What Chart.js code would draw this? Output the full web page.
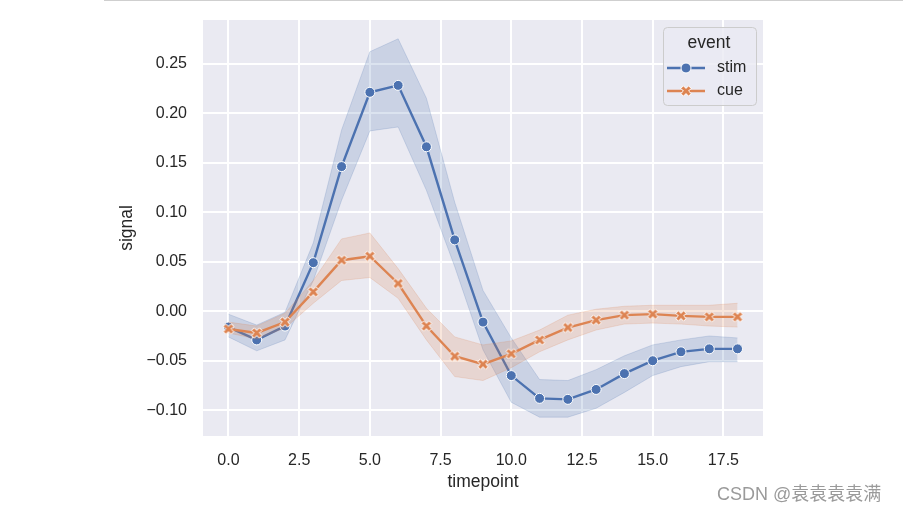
<!DOCTYPE html>
<html>
<head>
<meta charset="utf-8">
<script src="https://cdn.jsdelivr.net/npm/chart.js@4/dist/chart.umd.min.js"></script>
<style>
  body { margin: 0; background: #fff; }
  #wrap { position: relative; width: 903px; height: 513px; }
  #topline { position: absolute; left: 104px; top: 0; width: 799px; height: 1px; background: #cfcfcf; }
  #mark { position: absolute; left: 717px; top: 484px; font: 18px "Liberation Sans", "Noto Sans CJK SC", sans-serif; line-height: 20px; color: #9a9a9a; white-space: nowrap; }
</style>
</head>
<body>
<div id="wrap">
  <canvas id="chart" width="903" height="513"></canvas>
  <div id="topline"></div>
  <div id="mark">CSDN @袁袁袁袁满</div>
</div>
<script>
const timepoints = [0, 1, 2, 3, 4, 5, 6, 7, 8, 9, 10, 11, 12, 13, 14, 15, 16, 17, 18];

const stimMean  = [-0.016, -0.029, -0.015, 0.049, 0.146, 0.221, 0.228, 0.166, 0.072, -0.011, -0.065, -0.088, -0.089, -0.079, -0.063, -0.050, -0.041, -0.038, -0.038];
const stimUpper = [-0.003, -0.014, -0.001, 0.069, 0.183, 0.262, 0.275, 0.215, 0.110, 0.021, -0.027, -0.069, -0.070, -0.059, -0.045, -0.034, -0.029, -0.025, -0.027];
const stimLower = [-0.026, -0.040, -0.029, 0.031, 0.112, 0.182, 0.186, 0.122, 0.045, -0.039, -0.092, -0.107, -0.107, -0.098, -0.082, -0.065, -0.056, -0.051, -0.051];

const cueMean  = [-0.018, -0.022, -0.011, 0.0195, 0.0515, 0.0555, 0.028, -0.015, -0.0455, -0.0535, -0.043, -0.029, -0.0165, -0.009, -0.004, -0.003, -0.0047, -0.0057, -0.0057];
const cueUpper = [-0.011, -0.015, -0.002, 0.031, 0.073, 0.079, 0.043, 0.003, -0.026, -0.034, -0.030, -0.019, -0.004, 0.002, 0.005, 0.006, 0.006, 0.006, 0.008];
const cueLower = [-0.022, -0.028, -0.017, 0.008, 0.031, 0.034, 0.013, -0.029, -0.066, -0.070, -0.057, -0.041, -0.029, -0.019, -0.013, -0.012, -0.013, -0.015, -0.016];

const seriesNames = ['stim', 'cue'];
const legendTitle = 'event';
const xTicks = [0, 2.5, 5, 7.5, 10, 12.5, 15, 17.5];
const yTicks = [-0.10, -0.05, 0, 0.05, 0.10, 0.15, 0.20, 0.25];

const BLUE = '#4c72b0';
const ORANGE = '#dd8452';
const TEXT = '#262626';
const FONT = '"Liberation Sans", Arial, sans-serif';

Chart.defaults.font.family = FONT;

function pts(ys) {
    return timepoints.map((t, i) => ({ x: t, y: ys[i] }));
}

// filled "X" marker like matplotlib's
function makeX(size, color) {
    const c = document.createElement('canvas');
    c.width = 16; c.height = 16;
    const g = c.getContext('2d');
    const s = size / 6;
    const shape = [[-1, -3], [1, -3], [1, -1], [3, -1], [3, 1], [1, 1], [1, 3], [-1, 3], [-1, 1], [-3, 1], [-3, -1], [-1, -1]];
    const a = Math.PI / 4;
    g.beginPath();
    shape.forEach(([px, py], i) => {
        const rx = (px * Math.cos(a) - py * Math.sin(a)) * s + 8;
        const ry = (px * Math.sin(a) + py * Math.cos(a)) * s + 8;
        if (i === 0) g.moveTo(rx, ry); else g.lineTo(rx, ry);
    });
    g.closePath();
    g.fillStyle = color;
    g.fill();
    g.strokeStyle = '#ffffff';
    g.lineWidth = 1;
    g.stroke();
    return c;
}
const xMarker = makeX(11, ORANGE);

function band(ys, color, fill, order) {
    return {
        data: pts(ys),
        showLine: true,
        borderColor: color,
        backgroundColor: color,
        borderWidth: 1,
        pointRadius: 0,
        fill: fill,
        order: order
    };
}

const bgPlugin = {
    id: 'bg',
    beforeDraw(chart) {
        const a = chart.chartArea;
        const ctx = chart.ctx;
        ctx.save();
        ctx.fillStyle = '#eaeaf2';
        ctx.fillRect(a.left, a.top, a.right - a.left, a.bottom - a.top);
        ctx.restore();
    }
};

const legendPlugin = {
    id: 'seabornLegend',
    afterDraw(chart) {
        const ctx = chart.ctx;
        ctx.save();
        ctx.beginPath();
        ctx.roundRect(663.5, 27.5, 93, 78, 4);
        ctx.fillStyle = 'rgba(234,234,242,0.8)';
        ctx.fill();
        ctx.strokeStyle = '#cccccc';
        ctx.lineWidth = 1;
        ctx.stroke();

        ctx.fillStyle = TEXT;
        ctx.textAlign = 'center';
        ctx.textBaseline = 'middle';
        ctx.font = '17.5px ' + FONT;
        ctx.fillText(legendTitle, 709, 43);

        const colors = [BLUE, ORANGE];
        const rows = [68, 91];
        seriesNames.forEach((name, i) => {
            const y = rows[i];
            ctx.strokeStyle = colors[i];
            ctx.lineWidth = 2.4;
            ctx.beginPath();
            ctx.moveTo(667, y);
            ctx.lineTo(705, y);
            ctx.stroke();
            if (i === 0) {
                ctx.beginPath();
                ctx.arc(686, y, 5, 0, Math.PI * 2);
                ctx.fillStyle = BLUE;
                ctx.fill();
                ctx.strokeStyle = '#fff';
                ctx.lineWidth = 1;
                ctx.stroke();
            } else {
                ctx.drawImage(xMarker, 686 - 8, y - 8);
            }
            ctx.fillStyle = TEXT;
            ctx.textAlign = 'left';
            ctx.font = '16px ' + FONT;
            ctx.fillText(name, 717, y);
        });
        ctx.restore();
    }
};

new Chart(document.getElementById('chart'), {
    type: 'scatter',
    data: {
        datasets: [
            band(stimLower, 'rgba(76,114,176,0.2)', false, 5),
            band(stimUpper, 'rgba(76,114,176,0.2)', '-1', 4),
            {
                data: pts(stimMean),
                showLine: true,
                borderColor: BLUE,
                borderWidth: 2.4,
                pointStyle: 'circle',
                pointRadius: 5,
                pointBackgroundColor: BLUE,
                pointBorderColor: '#ffffff',
                pointBorderWidth: 1,
                order: 3
            },
            band(cueLower, 'rgba(221,132,82,0.2)', false, 2),
            band(cueUpper, 'rgba(221,132,82,0.2)', '-1', 1),
            {
                data: pts(cueMean),
                showLine: true,
                borderColor: ORANGE,
                borderWidth: 2.4,
                pointStyle: xMarker,
                pointRadius: 5,
                order: 0
            }
        ]
    },
    options: {
        responsive: false,
        animation: false,
        layout: { padding: { left: 0, top: 20, right: 140, bottom: 0 } },
        plugins: {
            legend: { display: false },
            tooltip: { enabled: false }
        },
        scales: {
            x: {
                type: 'linear',
                min: -0.9,
                max: 18.9,
                afterBuildTicks: s => { s.ticks = xTicks.map(v => ({ value: v })); },
                afterFit: s => { s.height = 77; s.paddingLeft = 0; s.paddingRight = 0; },
                ticks: {
                    callback: v => v.toFixed(1),
                    color: TEXT,
                    font: { size: 16 },
                    padding: 15,
                    maxRotation: 0
                },
                grid: { color: '#ffffff', lineWidth: 2, drawTicks: false },
                border: { display: false },
                title: {
                    display: true,
                    text: 'timepoint',
                    color: TEXT,
                    font: { size: 17.5 },
                    padding: { top: 0, bottom: 20.5 }
                }
            },
            y: {
                min: -0.126,
                max: 0.294,
                afterBuildTicks: s => { s.ticks = yTicks.map(v => ({ value: v })); },
                afterFit: s => { s.width = 203; s.paddingTop = 0; s.paddingBottom = 0; },
                ticks: {
                    callback: v => (v < 0 ? '\u2212' : '') + Math.abs(v).toFixed(2),
                    color: TEXT,
                    font: { size: 16 },
                    padding: 16
                },
                grid: { color: '#ffffff', lineWidth: 2, drawTicks: false },
                border: { display: false },
                title: {
                    display: true,
                    text: 'signal',
                    color: TEXT,
                    font: { size: 17.5 },
                    padding: { top: 116.5, bottom: 0 }
                }
            }
        }
    },
    plugins: [bgPlugin, legendPlugin]
});
</script>
</body>
</html>
